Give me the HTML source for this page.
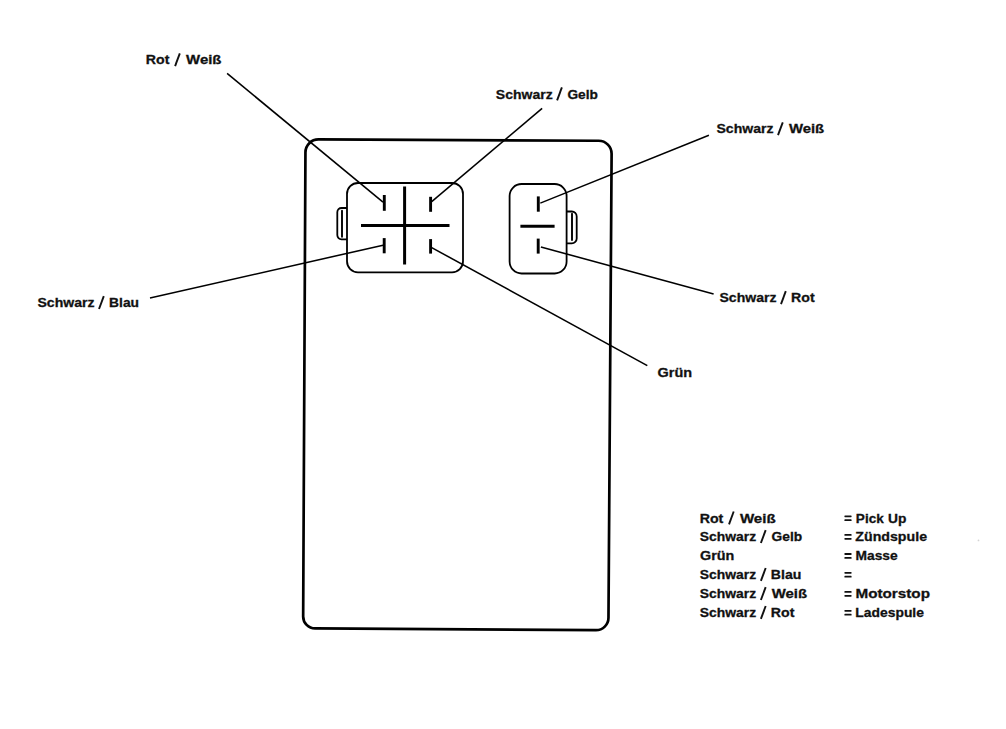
<!DOCTYPE html>
<html><head><meta charset="utf-8"><title>Diagram</title>
<style>html,body{margin:0;padding:0;background:#fff;}svg{display:block;}</style>
</head><body>
<svg width="1006" height="729" viewBox="0 0 1006 729">
<rect width="1006" height="729" fill="#fff"/>
<path d="M318.50,139.46 L598.70,140.74 C605.88,140.77 611.66,146.62 611.61,153.80 L608.48,617.80 C608.44,624.70 602.80,630.27 595.90,630.22 L315.10,628.47 C308.47,628.43 303.13,623.03 303.16,616.40 L305.44,152.40 C305.47,145.22 311.32,139.43 318.50,139.46 Z" fill="none" stroke="#000" stroke-width="2.7"/>
<path d="M358,183 H452 A11,11 0 0 1 463,194 V261.3 A11,11 0 0 1 452,272.3 H358 A11,11 0 0 1 347,261.3 V194 A11,11 0 0 1 358,183 Z" fill="none" stroke="#000" stroke-width="1.8"/>
<path d="M347,208 H341.5 A4.2,4.2 0 0 0 337.3,212.2 V235.1 A4.2,4.2 0 0 0 341.5,239.3 H347" fill="none" stroke="#000" stroke-width="1.8"/>
<line x1="342" y1="210.6" x2="342" y2="236.8" stroke="#000" stroke-width="1.9" stroke-linecap="round"/>
<g stroke="#000" stroke-width="2.9" fill="none">
<line x1="384.3" y1="195.0" x2="384.3" y2="210.8"/>
<line x1="430.6" y1="196.8" x2="430.6" y2="211.8"/>
<line x1="384.2" y1="238.1" x2="384.2" y2="253.3"/>
<line x1="430.6" y1="239.1" x2="430.6" y2="253.6"/>
<line x1="538.3" y1="196.4" x2="538.3" y2="211.7"/>
<line x1="538.2" y1="238.6" x2="538.2" y2="253.6"/>
</g>
<g stroke="#000" stroke-width="3" fill="none">
<line x1="404.6" y1="186.5" x2="404.6" y2="264.5"/>
<line x1="361" y1="225.5" x2="449.5" y2="225.5"/>
<line x1="520.4" y1="226.3" x2="554.6" y2="226.3"/>
</g>
<path d="M521.6,184 H554.6 A12,12 0 0 1 566.6,196 V261.5 A12,12 0 0 1 554.6,273.5 H521.6 A12,12 0 0 1 509.6,261.5 V196 A12,12 0 0 1 521.6,184 Z" fill="none" stroke="#000" stroke-width="1.8"/>
<path d="M566.6,211.5 H571.8 A4.9,4.9 0 0 1 576.7,216.4 V238.4 A4.9,4.9 0 0 1 571.8,243.3 H566.6" fill="none" stroke="#000" stroke-width="1.8"/>
<line x1="572" y1="213.7" x2="572" y2="240" stroke="#000" stroke-width="1.9" stroke-linecap="round"/>
<g stroke="#000" stroke-width="1.55" fill="none">
<line x1="227.1" y1="73.4" x2="383.0" y2="202.2"/>
<line x1="542.1" y1="108.3" x2="431.7" y2="201.7"/>
<line x1="708.9" y1="135.3" x2="540.3" y2="203.1"/>
<line x1="150" y1="298" x2="383.1" y2="245.2"/>
<line x1="431.7" y1="247.6" x2="647.3" y2="365.6"/>
<line x1="540.9" y1="247.0" x2="713.6" y2="293.9"/>
</g>
<g font-family="Liberation Sans, sans-serif" font-weight="bold" font-size="13.3" fill="#111" stroke="#111" stroke-width="0.3">
<text x="145.86" y="64.40" textLength="23.57" lengthAdjust="spacingAndGlyphs">Rot</text>
<text x="186.13" y="64.40" textLength="35.34" lengthAdjust="spacingAndGlyphs">Weiß</text>
<text x="495.84" y="98.50" textLength="56.86" lengthAdjust="spacingAndGlyphs">Schwarz</text>
<text x="567.42" y="98.50" textLength="30.47" lengthAdjust="spacingAndGlyphs">Gelb</text>
<text x="716.43" y="133.40" textLength="57.08" lengthAdjust="spacingAndGlyphs">Schwarz</text>
<text x="788.95" y="133.40" textLength="35.26" lengthAdjust="spacingAndGlyphs">Weiß</text>
<text x="37.43" y="307.20" textLength="57.08" lengthAdjust="spacingAndGlyphs">Schwarz</text>
<text x="109.08" y="307.20" textLength="29.93" lengthAdjust="spacingAndGlyphs">Blau</text>
<text x="719.43" y="302.30" textLength="57.08" lengthAdjust="spacingAndGlyphs">Schwarz</text>
<text x="791.06" y="302.30" textLength="23.54" lengthAdjust="spacingAndGlyphs">Rot</text>
<text x="657.57" y="376.60" textLength="34.54" lengthAdjust="spacingAndGlyphs">Grün</text>
<text x="699.70" y="522.60" textLength="23.65" lengthAdjust="spacingAndGlyphs">Rot</text>
<text x="739.91" y="522.60" textLength="35.77" lengthAdjust="spacingAndGlyphs">Weiß</text>
<text x="699.84" y="541.20" textLength="56.37" lengthAdjust="spacingAndGlyphs">Schwarz</text>
<text x="771.61" y="541.20" textLength="30.62" lengthAdjust="spacingAndGlyphs">Gelb</text>
<text x="700.01" y="560.30" textLength="34.27" lengthAdjust="spacingAndGlyphs">Grün</text>
<text x="699.84" y="579.10" textLength="56.37" lengthAdjust="spacingAndGlyphs">Schwarz</text>
<text x="770.85" y="579.10" textLength="30.52" lengthAdjust="spacingAndGlyphs">Blau</text>
<text x="699.84" y="598.20" textLength="56.37" lengthAdjust="spacingAndGlyphs">Schwarz</text>
<text x="771.74" y="598.20" textLength="35.37" lengthAdjust="spacingAndGlyphs">Weiß</text>
<text x="699.84" y="617.10" textLength="56.37" lengthAdjust="spacingAndGlyphs">Schwarz</text>
<text x="770.86" y="617.10" textLength="23.57" lengthAdjust="spacingAndGlyphs">Rot</text>
<text x="855.88" y="522.60" textLength="27.86" lengthAdjust="spacingAndGlyphs">Pick</text>
<text x="888.14" y="522.60" textLength="18.38" lengthAdjust="spacingAndGlyphs">Up</text>
<text x="855.35" y="541.20" textLength="71.67" lengthAdjust="spacingAndGlyphs">Zündspule</text>
<text x="855.50" y="560.30" textLength="42.14" lengthAdjust="spacingAndGlyphs">Masse</text>
<text x="855.46" y="598.20" textLength="74.51" lengthAdjust="spacingAndGlyphs">Motorstop</text>
<text x="855.39" y="617.10" textLength="68.54" lengthAdjust="spacingAndGlyphs">Ladespule</text>
</g>
<g stroke="#111" stroke-width="1.9" fill="none">
<line x1="175.10" y1="66.20" x2="179.80" y2="53.30"/>
<line x1="557.10" y1="100.30" x2="561.90" y2="87.40"/>
<line x1="778.00" y1="135.20" x2="782.80" y2="122.30"/>
<line x1="99.00" y1="309.00" x2="103.80" y2="296.10"/>
<line x1="781.00" y1="304.10" x2="785.80" y2="291.20"/>
<line x1="729.00" y1="524.40" x2="733.70" y2="511.50"/>
<line x1="760.90" y1="543.00" x2="765.70" y2="530.10"/>
<line x1="760.90" y1="580.90" x2="765.70" y2="568.00"/>
<line x1="760.90" y1="600.00" x2="765.70" y2="587.10"/>
<line x1="760.90" y1="618.90" x2="765.70" y2="606.00"/>
</g>
<g fill="#111">
<rect x="844.40" y="515.40" width="7.2" height="1.8" rx="0.6"/><rect x="844.40" y="519.30" width="7.2" height="1.8" rx="0.6"/>
<rect x="844.40" y="534.00" width="7.2" height="1.8" rx="0.6"/><rect x="844.40" y="537.90" width="7.2" height="1.8" rx="0.6"/>
<rect x="844.40" y="553.10" width="7.2" height="1.8" rx="0.6"/><rect x="844.40" y="557.00" width="7.2" height="1.8" rx="0.6"/>
<rect x="844.40" y="571.90" width="7.2" height="1.8" rx="0.6"/><rect x="844.40" y="575.80" width="7.2" height="1.8" rx="0.6"/>
<rect x="844.40" y="591.00" width="7.2" height="1.8" rx="0.6"/><rect x="844.40" y="594.90" width="7.2" height="1.8" rx="0.6"/>
<rect x="844.40" y="609.90" width="7.2" height="1.8" rx="0.6"/><rect x="844.40" y="613.80" width="7.2" height="1.8" rx="0.6"/>
</g>
<circle cx="978.5" cy="540.4" r="0.9" fill="#d4d4d4"/>
</svg>
</body></html>
